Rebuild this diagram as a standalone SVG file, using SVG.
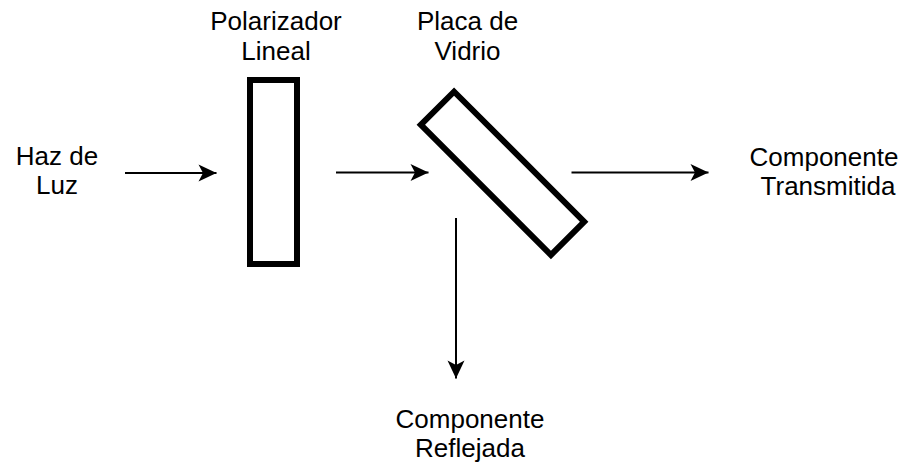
<svg xmlns="http://www.w3.org/2000/svg" width="907" height="469" viewBox="0 0 907 469">
  <style>
    .lbl { font-family: "Liberation Sans", Arial, sans-serif; font-size: 26px; fill: #000; text-anchor: middle; }
    .box { fill: #fff; stroke: #000; stroke-width: 6; }
    .conn { stroke: #000; stroke-width: 2; fill: none; marker-end: url(#arr); }
  </style>
  <defs>
    <marker id="arr" markerUnits="userSpaceOnUse" markerWidth="18" markerHeight="17" refX="18" refY="8.5" orient="auto" overflow="visible">
      <path d="M0,0 L18,8.5 L0,17 L4.5,8.5 Z" fill="#000"/>
    </marker>
  </defs>
  <rect width="907" height="469" fill="#fff"/>

  <g id="haz-de-luz">
    <text class="lbl" x="57" y="165">Haz de</text>
    <text class="lbl" x="57" y="194">Luz</text>
  </g>

  <g id="polarizador">
    <rect class="box" x="250" y="80" width="47" height="184"/>
    <text class="lbl" x="276" y="30">Polarizador</text>
    <text class="lbl" x="276" y="60">Lineal</text>
  </g>

  <g id="placa-vidrio">
    <rect class="box" x="479" y="81.3" width="47" height="184" transform="rotate(-45 502.5 173.3)"/>
    <text class="lbl" x="467.5" y="30">Placa de</text>
    <text class="lbl" x="467.5" y="60">Vidrio</text>
  </g>

  <g id="componente-transmitida">
    <text class="lbl" x="824" y="166">Componente</text>
    <text class="lbl" x="828" y="195">Transmitida</text>
  </g>

  <g id="componente-reflejada">
    <text class="lbl" x="470" y="428">Componente</text>
    <text class="lbl" x="470" y="457">Reflejada</text>
  </g>

  <g id="connectors">
    <line class="conn" x1="125" y1="173" x2="216.5" y2="173"/>
    <line class="conn" x1="336" y1="172.5" x2="428.5" y2="172.5"/>
    <line class="conn" x1="571.5" y1="172.5" x2="708.5" y2="172.5"/>
    <line class="conn" x1="456" y1="218" x2="456" y2="378.5"/>
  </g>
</svg>
